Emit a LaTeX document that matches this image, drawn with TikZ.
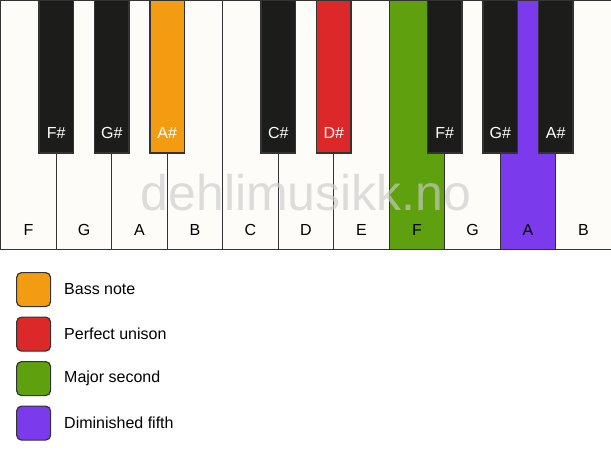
\documentclass[tikz,border=0pt]{standalone}
\usepackage{fontspec}
\setmainfont{Liberation Sans}
\definecolor{keywhite}{HTML}{FDFCF9}
\definecolor{keyblack}{HTML}{1C1C1A}
\definecolor{keyline}{HTML}{333333}
\definecolor{cbass}{HTML}{F39C12}
\definecolor{cunison}{HTML}{DC2828}
\definecolor{csecond}{HTML}{5FA00F}
\definecolor{cfifth}{HTML}{7C3AED}
\tikzset{
  whitekey/.style={draw=keyline, line width=1.4pt, fill=keywhite, minimum width=55.5pt, minimum height=249pt, inner sep=0pt, outer sep=0pt, anchor=north west},
  blackkey/.style={draw=keyline, line width=1.2pt, fill=keyblack, minimum width=34.4pt, minimum height=153pt, inner sep=0pt, outer sep=0pt, anchor=north},
  wlabel/.style={font=\fontsize{16}{19}\selectfont, text=black},
  blabel/.style={font=\fontsize{16}{19}\selectfont, text=white},
  legbox/.style={draw=keyline, line width=1.2pt, rounded corners=5pt, minimum width=34pt, minimum height=34pt, inner sep=0pt, anchor=north west},
  legtext/.style={font=\fontsize{16}{19}\selectfont, anchor=west, inner sep=0pt},
  mark text/.style={font=\fontsize{50}{58}\selectfont, text=black!20, opacity=0.65}
}
\begin{document}
\begin{tikzpicture}[x=1pt,y=-1pt]
\useasboundingbox (0,0) rectangle (611,461);
\fill[white] (0,0) rectangle (611,461);
% white keys
\foreach \i/\n/\c in {0/F/keywhite,1/G/keywhite,2/A/keywhite,3/B/keywhite,4/C/keywhite,5/D/keywhite,6/E/keywhite,7/F/csecond,8/G/keywhite,9/A/cfifth,10/B/keywhite}{
  \node[whitekey, fill=\c] (w\i) at ({0.75+55.5*\i},0.75) {};
  \node[wlabel] (wl\i) at ({0.75+55.5*\i+27.75},230) {\n};
}
% watermark
\node[mark text] (mark) at (306,193) {dehlimusikk.no};
% black keys
\foreach \k/\n/\c in {1/F\#/keyblack,2/G\#/keyblack,3/A\#/cbass,5/C\#/keyblack,6/D\#/cunison,8/F\#/keyblack,9/G\#/keyblack,10/A\#/keyblack}{
  \node[blackkey, fill=\c] (b\k) at ({0.75+55.5*\k},0) {};
  \node[blabel] (bl\k) at ({0.75+55.5*\k},133) {\n};
}
% legend
\foreach \j/\c/\t in {0/cbass/Bass note,1/cunison/Perfect unison,2/csecond/Major second,3/cfifth/Diminished fifth}{
  \node[legbox, fill=\c] (lb\j) at (16,{272+44.5*\j}) {};
  \node[legtext] (lt\j) at (64,{289.5+44.5*\j}) {\t};
}
\end{tikzpicture}
\end{document}
